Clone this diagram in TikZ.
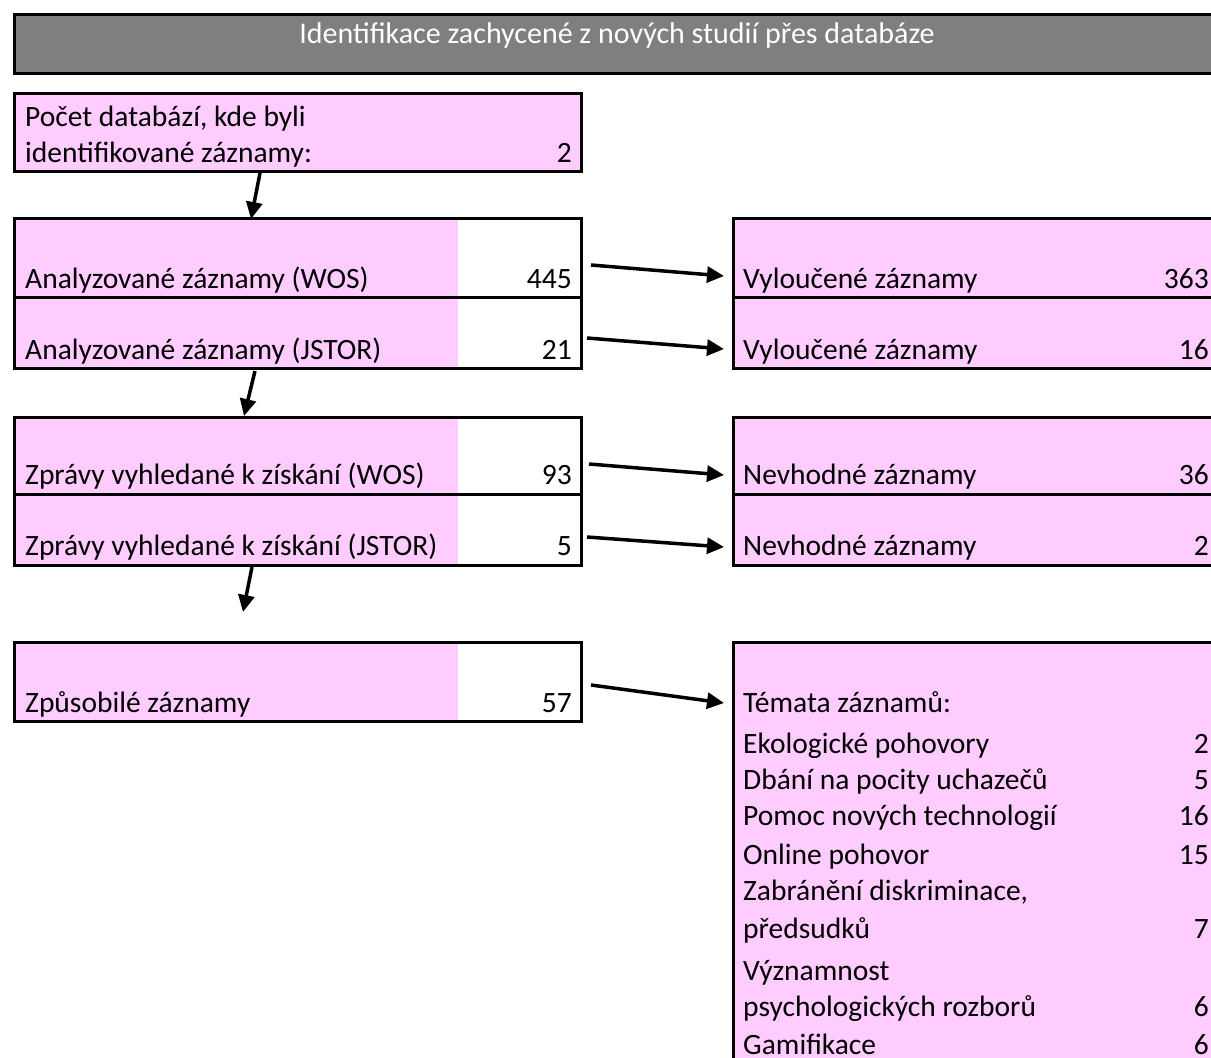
\documentclass[tikz,border=0pt]{standalone}
\usepackage{fontspec}
\setmainfont{Carlito}
\usetikzlibrary{arrows.meta}
\definecolor{pinkc}{HTML}{FFCCFF}
\definecolor{grayc}{HTML}{7F7F7F}
\begin{document}
\begin{tikzpicture}[x=1pt,y=-1pt,
  font=\fontsize{29.5}{35}\selectfont,
  box/.style={draw=black, line width=3pt, fill=pinkc, rectangle, inner sep=0pt, outer sep=0pt, anchor=north west},
  whitecol/.style={path picture={\fill[white] ([xshift=-123pt]path picture bounding box.south east) rectangle (path picture bounding box.north east);}},
  lbl/.style={anchor=base west, inner sep=0pt},
  num/.style={anchor=base east, inner sep=0pt},
  arr/.style={-{Triangle[length=17pt,width=16pt]}, line width=3.5pt}]
\useasboundingbox (0,0) rectangle (1211,1058);
\clip (0,0) rectangle (1211,1058);
% title
\node[box, fill=grayc, minimum width=1207pt, minimum height=59pt] (title) at (14,14) {};
\node[text=white, inner sep=0pt, font=\fontsize{30}{35}\selectfont] (titletext) at (617,35) {Identifikace zachycené z nových studií přes databáze};
% left column
\node[box, minimum width=567pt, minimum height=78pt] (b1) at (14,93) {};
\node[box, whitecol, minimum width=567pt, minimum height=79pt] (wos) at (14,218) {};
\node[box, whitecol, minimum width=567pt, minimum height=71pt] (jstor) at (14,297) {};
\node[box, whitecol, minimum width=567pt, minimum height=77pt] (zwos) at (14,417) {};
\node[box, whitecol, minimum width=567pt, minimum height=71pt] (zjstor) at (14,494) {};
\node[box, whitecol, minimum width=567pt, minimum height=79pt] (zpus) at (14,642) {};
% right column
\node[box, minimum width=485pt, minimum height=79pt] (rv1) at (733,218) {};
\node[box, minimum width=485pt, minimum height=71pt] (rv2) at (733,297) {};
\node[box, minimum width=485pt, minimum height=77pt] (rn1) at (733,417) {};
\node[box, minimum width=485pt, minimum height=71pt] (rn2) at (733,494) {};
\node[box, minimum width=485pt, minimum height=450pt] (rt) at (733,642) {};
% left texts
\node[lbl] (b1t1) at (25,126) {Počet databází, kde byli};
\node[lbl] (b1t2) at (25,162) {identifikované záznamy:};
\node[num] (b1n) at (572,162) {2};
\node[lbl] (wost) at (25,288) {Analyzované záznamy (WOS)};
\node[num] (wosn) at (572,288) {445};
\node[lbl] (jstort) at (25,359) {Analyzované záznamy (JSTOR)};
\node[num] (jstorn) at (572,359) {21};
\node[lbl] (zwost) at (25,484) {Zprávy vyhledané k získání (WOS)};
\node[num] (zwosn) at (572,484) {93};
\node[lbl] (zjstort) at (25,555) {Zprávy vyhledané k získání (JSTOR)};
\node[num] (zjstorn) at (572,555) {5};
\node[lbl] (zpust) at (25,712) {Způsobilé záznamy};
\node[num] (zpusn) at (572,712) {57};
% right texts
\node[lbl] (rv1t) at (743,288) {Vyloučené záznamy};
\node[num] (rv1n) at (1209,288) {363};
\node[lbl] (rv2t) at (743,359) {Vyloučené záznamy};
\node[num] (rv2n) at (1209,359) {16};
\node[lbl] (rn1t) at (743,484) {Nevhodné záznamy};
\node[num] (rn1n) at (1209,484) {36};
\node[lbl] (rn2t) at (743,555) {Nevhodné záznamy};
\node[num] (rn2n) at (1209,555) {2};
\node[lbl] (rt0) at (743,712) {Témata záznamů:};
\node[lbl] (rt1) at (743,753) {Ekologické pohovory};
\node[num] (rt1n) at (1209,753) {2};
\node[lbl] (rt2) at (743,789) {Dbání na pocity uchazečů};
\node[num] (rt2n) at (1209,789) {5};
\node[lbl] (rt3) at (743,825) {Pomoc nových technologií};
\node[num] (rt3n) at (1209,825) {16};
\node[lbl] (rt4) at (743,864) {Online pohovor};
\node[num] (rt4n) at (1209,864) {15};
\node[lbl] (rt5) at (743,900) {Zabránění diskriminace,};
\node[lbl] (rt6) at (743,938) {předsudků};
\node[num] (rt6n) at (1209,938) {7};
\node[lbl] (rt7) at (743,980) {Významnost};
\node[lbl] (rt8) at (743,1016) {psychologických rozborů};
\node[num] (rt8n) at (1209,1016) {6};
\node[lbl] (rt9) at (743,1054) {Gamifikace};
\node[num] (rt9n) at (1209,1054) {6};
% arrow end points
\coordinate (a1s) at (260,173); \coordinate (a1e) at (251,219);
\coordinate (a2s) at (255,371); \coordinate (a2e) at (244,416);
\coordinate (a3s) at (252,567); \coordinate (a3e) at (243,612);
\coordinate (h1s) at (591,265); \coordinate (h1e) at (724,276);
\coordinate (h2s) at (587,338); \coordinate (h2e) at (724,349);
\coordinate (h3s) at (589,464); \coordinate (h3e) at (724,475);
\coordinate (h4s) at (587,537); \coordinate (h4e) at (724,547);
\coordinate (h5s) at (591,685); \coordinate (h5e) at (724,703);
\draw[arr] (a1s) -- (a1e);
\draw[arr] (a2s) -- (a2e);
\draw[arr] (a3s) -- (a3e);
\draw[arr] (h1s) -- (h1e);
\draw[arr] (h2s) -- (h2e);
\draw[arr] (h3s) -- (h3e);
\draw[arr] (h4s) -- (h4e);
\draw[arr] (h5s) -- (h5e);
\end{tikzpicture}
\end{document}
